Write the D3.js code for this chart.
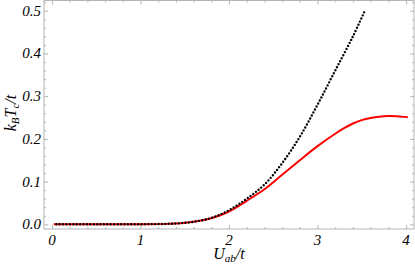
<!DOCTYPE html>
<html>
<head>
<meta charset="utf-8">
<script src="https://cdn.jsdelivr.net/npm/d3@7"></script>
<style>
  body { margin: 0; background: #fff; }
</style>
</head>
<body>
<svg width="415" height="272"></svg>
<script>
// dotted black curve
const uBlack = [0.05, 0.5, 1.0, 1.3, 1.45, 1.6, 1.8, 2.0, 2.2, 2.4, 2.6, 2.8, 3.0, 3.2, 3.4, 3.53];
const tBlack = [0, 0, 0.0003, 0.001, 0.0025, 0.006, 0.015, 0.033, 0.06, 0.093, 0.143, 0.205, 0.28, 0.36, 0.44, 0.498];
// solid red curve
const uRed = [0.02, 0.5, 1.0, 1.3, 1.45, 1.6, 1.8, 2.0, 2.2, 2.4, 2.6, 2.8, 3.0, 3.2, 3.3, 3.4, 3.5, 3.6, 3.7, 3.8, 3.9, 4.02];
const tRed = [0, 0, 0.0003, 0.001, 0.0025, 0.006, 0.014, 0.03, 0.055, 0.082, 0.116, 0.15, 0.183, 0.212, 0.225, 0.236, 0.244, 0.249, 0.252, 0.2533, 0.2528, 0.2505];

const xTicks = [0, 1, 2, 3, 4];
const yTicks = [0, 0.1, 0.2, 0.3, 0.4, 0.5];

const padL = 44, padR = 414, padT = 0.5, padB = 229;

const svg = d3.select('svg');

const x = d3.scaleLinear().domain([-0.09, 4.09]).range([padL, padR]);
const y = d3.scaleLinear().domain([-0.011, 0.524]).range([padB, padT]);

const frameColor = '#b4b4b4';
const serif = "'Liberation Serif', 'Times New Roman', 'DejaVu Serif', serif";

// frame
svg.append('rect')
   .attr('x', padL).attr('y', padT)
   .attr('width', padR - padL).attr('height', padB - padT)
   .attr('fill', 'none').attr('stroke', frameColor).attr('stroke-width', 1);

const xMinor = d3.range(0, 4.01, 0.2).filter(v => Math.abs(v - Math.round(v)) > 1e-6);
const yMinor = d3.range(0, 0.521, 0.02).filter(v => Math.abs(v * 10 - Math.round(v * 10)) > 1e-6);

const tickAxis = (axis, ticks, size, tr) => {
  const g = svg.append('g')
     .attr('transform', tr)
     .call(axis.tickValues(ticks).tickSize(size).tickFormat(''));
  g.select('.domain').remove();
  g.selectAll('line').attr('stroke', frameColor);
  return g;
};

// inward ticks on all four sides
tickAxis(d3.axisTop(x), xTicks, 4, `translate(0,${padB})`);
tickAxis(d3.axisTop(x), xMinor, 2, `translate(0,${padB})`);
tickAxis(d3.axisBottom(x), xTicks, 4, `translate(0,${padT})`);
tickAxis(d3.axisBottom(x), xMinor, 2, `translate(0,${padT})`);
tickAxis(d3.axisRight(y), yTicks, 4, `translate(${padL},0)`);
tickAxis(d3.axisRight(y), yMinor, 2, `translate(${padL},0)`);
tickAxis(d3.axisLeft(y), yTicks, 4, `translate(${padR},0)`);
tickAxis(d3.axisLeft(y), yMinor, 2, `translate(${padR},0)`);

// tick labels
svg.selectAll('.xlab')
   .data(xTicks)
   .enter()
   .append('text')
   .attr('x', d => x(d))
   .attr('y', 245)
   .attr('text-anchor', 'middle')
   .attr('font-family', serif)
   .attr('font-style', 'italic')
   .attr('font-size', 15)
   .text(d => d);

svg.selectAll('.ylab')
   .data(yTicks)
   .enter()
   .append('text')
   .attr('x', 41)
   .attr('y', d => y(d) + 5)
   .attr('text-anchor', 'end')
   .attr('font-family', serif)
   .attr('font-style', 'italic')
   .attr('font-size', 15)
   .text(d => d.toFixed(1));

// curves
const line = d3.line().curve(d3.curveCatmullRom);

svg.append('path')
   .attr('d', line(uRed.map((u, i) => [x(u), y(tRed[i])])))
   .attr('fill', 'none')
   .attr('stroke', '#ff0000')
   .attr('stroke-width', 2);

svg.append('path')
   .attr('d', line(uBlack.map((u, i) => [x(u), y(tBlack[i])])))
   .attr('fill', 'none')
   .attr('stroke', '#000')
   .attr('stroke-width', 2.4)
   .attr('stroke-linecap', 'round')
   .attr('stroke-dasharray', '0 3.4');

// axis labels
const xl = svg.append('text')
   .attr('x', 229)
   .attr('y', 259)
   .attr('text-anchor', 'middle')
   .attr('font-family', serif)
   .attr('font-style', 'italic')
   .attr('font-size', 16);
xl.append('tspan').text('U');
xl.append('tspan').attr('font-size', 11).attr('dy', 3).text('ab');
xl.append('tspan').attr('dy', -3).text('/t');

const yl = svg.append('text')
   .attr('transform', 'translate(16,113) rotate(-90)')
   .attr('text-anchor', 'middle')
   .attr('font-family', serif)
   .attr('font-style', 'italic')
   .attr('font-size', 16);
yl.append('tspan').text('k');
yl.append('tspan').attr('font-size', 11).attr('dy', 3).text('B');
yl.append('tspan').attr('dy', -3).text('T');
yl.append('tspan').attr('font-size', 11).attr('dy', 3).text('c');
yl.append('tspan').attr('dy', -3).text('/t');
</script>
</body>
</html>
